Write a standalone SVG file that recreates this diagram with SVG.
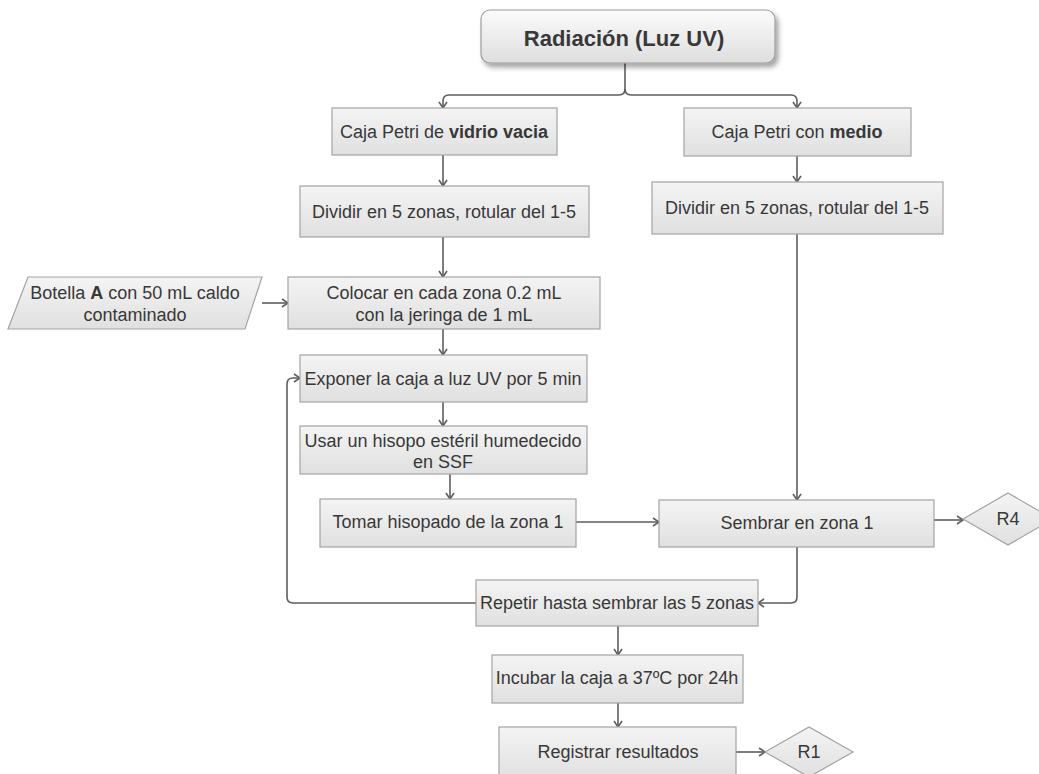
<svg xmlns="http://www.w3.org/2000/svg" width="1039" height="774" viewBox="0 0 1039 774">
<style>
.box{fill:url(#g);stroke:#a3a3a3;stroke-width:1.2}
.t{font-family:"Liberation Sans",Arial,sans-serif;font-size:18px;fill:#383838;text-anchor:middle;dominant-baseline:central}
.b{font-weight:bold}
.c{fill:none;stroke:#5e5e5e;stroke-width:1.6;marker-end:url(#a)}
.n{fill:none;stroke:#5e5e5e;stroke-width:1.6}
</style>
<defs>
<linearGradient id="g" x1="0" y1="0" x2="0" y2="1"><stop offset="0" stop-color="#f4f4f4"/><stop offset="1" stop-color="#e0e0e0"/></linearGradient>
<linearGradient id="gt" x1="0" y1="0" x2="0" y2="1"><stop offset="0" stop-color="#fbfbfb"/><stop offset="1" stop-color="#dedede"/></linearGradient>
<filter id="sh" x="-10%" y="-20%" width="125%" height="160%"><feDropShadow dx="3" dy="4" stdDeviation="2.5" flood-color="#000" flood-opacity="0.35"/></filter>
<marker id="a" viewBox="0 0 10 10" refX="9" refY="5" markerWidth="10" markerHeight="10" markerUnits="userSpaceOnUse" orient="auto"><path d="M3,1 L9,5 L3,9" fill="none" stroke="#5e5e5e" stroke-width="1.6"/></marker>
</defs>
<g id="connectors">
<path class="n" d="M625,63 V89 Q625,95 631,95"/>
<path class="c" d="M625,89 Q625,95 619,95 H449 Q443,95 443,101 V108"/>
<path class="c" d="M631,95 H791 Q797,95 797,101 V108"/>
<path class="c" d="M443,155 V186"/>
<path class="c" d="M797,156 V182"/>
<path class="c" d="M443,237 V277"/>
<path class="c" d="M262,303 H288"/>
<path class="c" d="M443,329 V355"/>
<path class="c" d="M443,402 V426"/>
<path class="c" d="M450,474 V499"/>
<path class="c" d="M576,522 H659"/>
<path class="c" d="M797,234 V500"/>
<path class="c" d="M934,520 H963"/>
<path class="c" d="M797,547 V597 Q797,603 791,603 H758"/>
<path class="c" d="M476,603 H293 Q287,603 287,597 V384 Q287,378 293,378 H300"/>
<path class="c" d="M618,626 V655"/>
<path class="c" d="M618,703 V727"/>
<path class="c" d="M736,752 H765"/>
</g>
<g id="n-title">
<rect x="481" y="10" width="294" height="53" rx="9" fill="url(#gt)" stroke="#9c9c9c" stroke-width="1.2" filter="url(#sh)"/>
<text class="t b" x="624" y="38" style="font-size:22px">Radiación (Luz UV)</text>
</g>
<g id="n-vidrio">
<rect class="box" x="332" y="108" width="225" height="47"/>
<text class="t" x="444" y="132">Caja Petri de <tspan class="b">vidrio vacia</tspan></text>
</g>
<g id="n-medio">
<rect class="box" x="684" y="108" width="227" height="48"/>
<text class="t" x="797" y="132">Caja Petri con <tspan class="b">medio</tspan></text>
</g>
<g id="n-dividir1">
<rect class="box" x="300" y="186" width="289" height="51"/>
<text class="t" x="444" y="212">Dividir en 5 zonas, rotular del 1-5</text>
</g>
<g id="n-dividir2">
<rect class="box" x="652" y="182" width="291" height="52"/>
<text class="t" x="797" y="208">Dividir en 5 zonas, rotular del 1-5</text>
</g>
<g id="n-botella">
<polygon class="box" points="28,277 262,277 245,329 8,329"/>
<text class="t" x="135" y="293">Botella <tspan class="b">A</tspan> con 50 mL caldo</text>
<text class="t" x="135" y="315">contaminado</text>
</g>
<g id="n-colocar">
<rect class="box" x="288" y="277" width="312" height="52"/>
<text class="t" x="444" y="293">Colocar en cada zona 0.2 mL</text>
<text class="t" x="444" y="315">con la jeringa de 1 mL</text>
</g>
<g id="n-exponer">
<rect class="box" x="300" y="355" width="287" height="47"/>
<text class="t" x="443" y="379">Exponer la caja a luz UV por 5 min</text>
</g>
<g id="n-usar">
<rect class="box" x="300" y="426" width="287" height="48"/>
<text class="t" x="443" y="441">Usar un hisopo estéril humedecido</text>
<text class="t" x="443" y="462">en SSF</text>
</g>
<g id="n-tomar">
<rect class="box" x="320" y="499" width="256" height="48"/>
<text class="t" x="448" y="522">Tomar hisopado de la zona 1</text>
</g>
<g id="n-sembrar">
<rect class="box" x="659" y="500" width="275" height="47"/>
<text class="t" x="797" y="523">Sembrar en zona 1</text>
</g>
<g id="n-r4">
<polygon class="box" points="963,519 1008,493 1053,519 1008,545"/>
<text class="t" x="1008" y="519">R4</text>
</g>
<g id="n-repetir">
<rect class="box" x="476" y="580" width="282" height="46"/>
<text class="t" x="617" y="603">Repetir hasta sembrar las 5 zonas</text>
</g>
<g id="n-incubar">
<rect class="box" x="492" y="655" width="251" height="48"/>
<text class="t" x="617" y="678">Incubar la caja a 37ºC por 24h</text>
</g>
<g id="n-registrar">
<rect class="box" x="499" y="727" width="237" height="52"/>
<text class="t" x="618" y="752">Registrar resultados</text>
</g>
<g id="n-r1">
<polygon class="box" points="765,752 809,727 853,752 809,777"/>
<text class="t" x="809" y="752">R1</text>
</g>
</svg>
